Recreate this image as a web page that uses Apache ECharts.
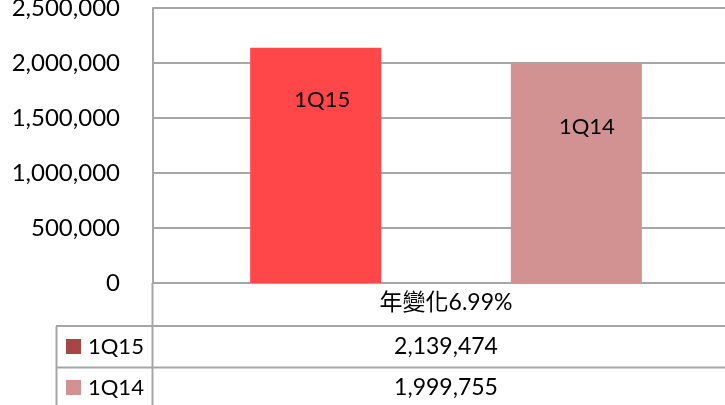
<!DOCTYPE html>
<html>
<head>
<meta charset="utf-8">
<title>年變化</title>
<script src="https://cdn.jsdelivr.net/npm/echarts@6/dist/echarts.min.js"></script>
<style>
    html, body { margin: 0; padding: 0; background: #fff; }
    #divStatis { width: 725px; height: 405px; }
</style>
</head>
<body>
<div id="divStatis"></div>
<script>
// data
var categories = ['年變化6.99%'];
var seriesNames = ['1Q15', '1Q14'];
var values1Q15 = [2139474];
var values1Q14 = [1999755];
var barColors = ['#FF474A', '#D29292'];
var keyColors = ['#A84545', '#D29292'];

var lineColor = '#A6A6A6';
var fontFamily = "Lato, 'Noto Sans CJK TC', sans-serif";

function fmt(v) {
    return String(v).replace(/\B(?=(\d{3})+(?!\d))/g, ',');
}

var myChart = echarts.init(document.getElementById('divStatis'));

var option = {
    animation: false,
    backgroundColor: '#fff',
    grid: {
        left: 153,
        right: -14,
        top: 8,
        bottom: 122,
        outerBoundsMode: 'none'
    },
    xAxis: [{
        type: 'category',
        data: categories,
        axisLine: { lineStyle: { color: lineColor, width: 2 } },
        axisTick: { show: false },
        axisLabel: {
            margin: 8,
            color: '#000',
            fontSize: 23,
            fontFamily: fontFamily
        }
    }],
    yAxis: [{
        type: 'value',
        min: 0,
        max: 2500000,
        interval: 500000,
        axisLine: { show: true, lineStyle: { color: lineColor, width: 2 } },
        axisTick: { show: false },
        axisLabel: {
            margin: 33,
            color: '#000',
            fontSize: 24,
            fontFamily: fontFamily,
            formatter: function (v) { return fmt(v); }
        },
        splitLine: { lineStyle: { color: lineColor, width: 2 } }
    }],
    series: [{
        name: seriesNames[0],
        type: 'bar',
        barWidth: 131,
        barGap: '99%',
        itemStyle: { color: barColors[0] },
        label: {
            show: true,
            position: ['55%', 52],
            align: 'center',
            verticalAlign: 'middle',
            color: '#000',
            fontSize: 22,
            fontFamily: fontFamily,
            formatter: function (p) { return p.seriesName; }
        },
        data: values1Q15
    }, {
        name: seriesNames[1],
        type: 'bar',
        barWidth: 131,
        itemStyle: { color: barColors[1] },
        label: {
            show: true,
            position: ['58%', 64],
            align: 'center',
            verticalAlign: 'middle',
            color: '#000',
            fontSize: 22,
            fontFamily: fontFamily,
            formatter: function (p) { return p.seriesName; }
        },
        data: values1Q14
    }]
};
myChart.setOption(option);

// data table under the axis
var cx = myChart.convertToPixel({ xAxisIndex: 0 }, categories[0]);
var rowY = [347, 388];
var rowValues = [values1Q15[0], values1Q14[0]];
var table = [
    { type: 'line', shape: { x1: 152.5, y1: 283, x2: 152.5, y2: 405 }, style: { stroke: lineColor, lineWidth: 2 } },
    { type: 'line', shape: { x1: 56.5, y1: 326, x2: 56.5, y2: 405 }, style: { stroke: lineColor, lineWidth: 2 } },
    { type: 'line', shape: { x1: 56, y1: 326, x2: 725, y2: 326 }, style: { stroke: lineColor, lineWidth: 2 } },
    { type: 'line', shape: { x1: 56, y1: 367.5, x2: 725, y2: 367.5 }, style: { stroke: lineColor, lineWidth: 2 } }
];
for (var i = 0; i < seriesNames.length; i++) {
    table.push({
        type: 'rect',
        shape: { x: 66, y: rowY[i] - 8, width: 15, height: 15 },
        style: { fill: keyColors[i] }
    });
    table.push({
        type: 'text',
        x: 88, y: rowY[i],
        style: {
            text: seriesNames[i], fill: '#000', fontSize: 22, fontFamily: fontFamily,
            align: 'left', verticalAlign: 'middle'
        }
    });
    table.push({
        type: 'text',
        x: cx, y: rowY[i],
        style: {
            text: fmt(rowValues[i]), fill: '#000', fontSize: 23, fontFamily: fontFamily,
            align: 'center', verticalAlign: 'middle'
        }
    });
}
myChart.setOption({ graphic: table });
</script>
</body>
</html>
